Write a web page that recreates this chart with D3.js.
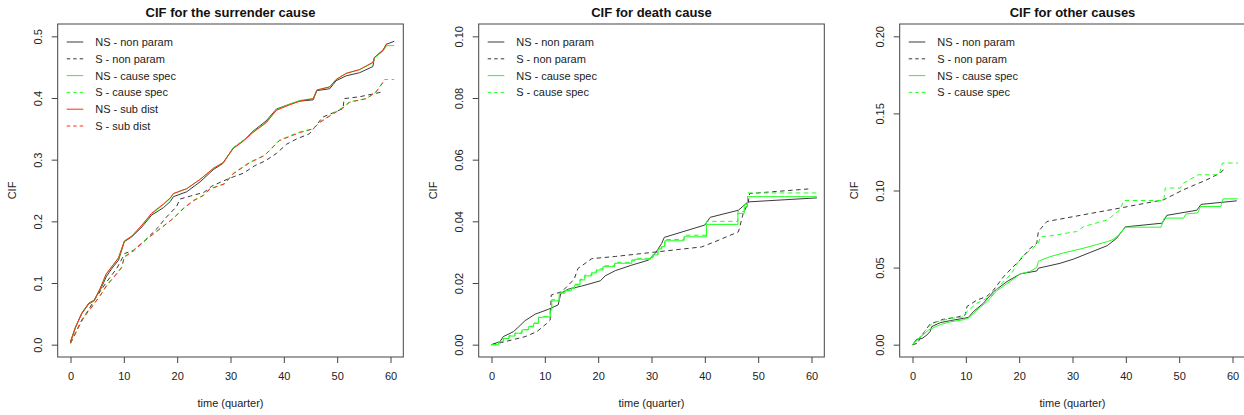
<!DOCTYPE html>
<html>
<head>
<meta charset="utf-8">
<script src="https://cdn.jsdelivr.net/npm/d3@7"></script>
<style>
  body { margin: 0; background: #fff; }
  svg { display: block; font-family: "Liberation Sans", Arial, sans-serif; }
</style>
</head>
<body>
<div id="chart"></div>
<script>
// ---- data: [time (quarter), CIF] ----
const titles = ["CIF for the surrender cause", "CIF for death cause", "CIF for other causes"];
const yTicks = [[0, 0.1, 0.2, 0.3, 0.4, 0.5], [0, 0.02, 0.04, 0.06, 0.08, 0.1], [0, 0.05, 0.1, 0.15, 0.2]];
const yTickLabels = [["0.0", "0.1", "0.2", "0.3", "0.4", "0.5"], ["0.00", "0.02", "0.04", "0.06", "0.08", "0.10"], ["0.00", "0.05", "0.10", "0.15", "0.20"]];
const xTicks = [0, 10, 20, 30, 40, 50, 60];
const legendNames = ["NS - non param", "S - non param", "NS - cause spec", "S - cause spec", "NS - sub dist", "S - sub dist"];

// surrender
const surrNSnp = [[0,0.005],[0.9,0.027],[2.1,0.051],[3.4,0.067],[4.4,0.072],[5.6,0.089],[6.7,0.110],[7.7,0.123],[9,0.137],[10.1,0.167],[11.5,0.175],[13.4,0.191],[15.2,0.21],[17.4,0.222],[18.7,0.232],[19.3,0.24],[21.8,0.248],[24.3,0.264],[26.8,0.284],[28.6,0.294],[30.5,0.319],[32.4,0.331],[34.2,0.346],[36.7,0.363],[38.6,0.382],[41.1,0.39],[43,0.395],[45.5,0.397],[46.2,0.412],[48.6,0.415],[49.8,0.428],[51.7,0.436],[54.2,0.441],[56.7,0.451],[57,0.466],[58.6,0.477],[59.2,0.487],[60.7,0.492]];
const surrSnp = [[0,0.003],[1,0.02],[2.4,0.043],[4.9,0.078],[6.8,0.102],[8.7,0.124],[10.2,0.148],[11.8,0.153],[13.7,0.167],[16.2,0.188],[18,0.207],[19.9,0.224],[20.5,0.236],[22.5,0.241],[25,0.247],[26.5,0.257],[28.5,0.265],[30.5,0.272],[32.4,0.278],[34.5,0.29],[36.5,0.298],[38.6,0.31],[40.5,0.325],[42.5,0.334],[44.8,0.342],[47.3,0.369],[49.5,0.377],[51.1,0.383],[51.3,0.399],[54.2,0.402],[58.6,0.41]];
const surrNScs = [[0,0.004],[0.9,0.028],[2.1,0.05],[3.4,0.066],[4.4,0.071],[5.6,0.091],[6.7,0.114],[7.7,0.126],[9,0.14],[10.1,0.168],[11.5,0.176],[13.4,0.193],[15.2,0.212],[17.4,0.227],[18.7,0.237],[19.3,0.245],[21.8,0.253],[24.3,0.268],[26.8,0.286],[28.6,0.295],[30.5,0.319],[32.4,0.331],[34.2,0.345],[36.7,0.361],[38.6,0.381],[41.1,0.39],[43,0.396],[45.5,0.399],[46.2,0.413],[48.6,0.418],[49.8,0.43],[51.7,0.44],[54.2,0.446],[56.7,0.457],[57,0.465],[58.6,0.476],[59.3,0.485],[60.7,0.485]];
const surrScs = [[0,0.002],[0.9,0.018],[2.1,0.04],[4,0.062],[5.6,0.08],[6.8,0.097],[8.4,0.113],[9.6,0.126],[10.1,0.143],[11.8,0.153],[14.3,0.172],[16.8,0.188],[19.3,0.205],[21.1,0.221],[23,0.234],[24.9,0.242],[26.1,0.253],[28.9,0.261],[30.5,0.278],[33.6,0.296],[36.4,0.307],[39.2,0.332],[43,0.345],[45.5,0.35],[46.7,0.361],[49.2,0.375],[51.1,0.385],[52.3,0.394],[55.5,0.399],[57.3,0.41],[58.9,0.43],[60.7,0.43]];
const surrNSsd = [[0,0.004],[0.9,0.028],[2.1,0.05],[3.4,0.066],[4.4,0.071],[5.6,0.092],[6.7,0.115],[7.7,0.126],[9,0.141],[10.1,0.168],[11.5,0.176],[13.4,0.194],[15.2,0.213],[17.4,0.228],[18.7,0.238],[19.3,0.245],[21.8,0.253],[24.3,0.268],[26.8,0.286],[28.6,0.295],[30.5,0.318],[32.4,0.33],[34.2,0.344],[36.7,0.36],[38.6,0.38],[41.1,0.389],[43,0.395],[45.5,0.399],[46.2,0.413],[48.6,0.418],[49.8,0.43],[51.7,0.44],[54.2,0.446],[56.7,0.458],[57,0.466],[58.6,0.478],[59.3,0.488]];
const surrSsd = [[0,0.002],[0.9,0.018],[2.1,0.04],[4,0.061],[5.6,0.08],[6.8,0.096],[8.4,0.112],[9.6,0.125],[10.1,0.142],[11.8,0.152],[14.3,0.171],[16.8,0.188],[19.3,0.205],[21.1,0.22],[23,0.233],[24.9,0.242],[26.1,0.252],[28.9,0.261],[30.5,0.277],[33.6,0.295],[36.4,0.307],[39.2,0.331],[43,0.344],[45.5,0.35],[46.7,0.36],[49.2,0.374],[51.1,0.384],[52.3,0.393],[55.5,0.399],[57.3,0.41],[58.9,0.429]];

// death
const deathNSnp = [[0,0],[1.6,0.001],[2.2,0.0026],[4.1,0.0042],[5.1,0.0058],[6.3,0.0078],[8.2,0.0099],[10.7,0.0115],[12.5,0.0129],[13,0.0167],[14.4,0.018],[16.9,0.019],[20.4,0.0207],[21.3,0.0223],[23.2,0.024],[26.3,0.0258],[29.4,0.0274],[30.7,0.0296],[31.9,0.0328],[32.4,0.0348],[40,0.0388],[41,0.0413],[46.3,0.0436],[48.1,0.0463],[61,0.0476]];
const deathSnp = [[0,0],[1.9,0.0007],[6.3,0.0026],[8.5,0.0042],[10.3,0.0068],[11,0.008],[11.2,0.0161],[13.2,0.0172],[15.5,0.0212],[16.2,0.0247],[18.8,0.0279],[23.2,0.0286],[30,0.0299],[39.4,0.0317],[41.9,0.0334],[46.3,0.0366],[47.2,0.0426],[48.1,0.0458],[48.4,0.049],[59.4,0.0505]];
const deathNScs = [[0,0],[1.3,0.001],[2.2,0.002],[3.3,0.0028],[4.4,0.0037],[5.7,0.0048],[6.9,0.0058],[7.9,0.0069],[8.8,0.0088],[9.5,0.009],[11,0.0112],[11.3,0.0142],[12.7,0.0167],[13.8,0.0175],[15,0.0183],[15.6,0.0194],[16.6,0.021],[17.5,0.0223],[18.8,0.0233],[19.7,0.0242],[20.9,0.0253],[23.1,0.0264],[26.3,0.0272],[26.9,0.0277],[29.8,0.0282],[30.3,0.0291],[31.2,0.031],[31.9,0.0318],[32.5,0.0337],[36.1,0.035],[40.3,0.039],[46.2,0.0426],[47.4,0.0447],[48,0.048],[61,0.048]];
const deathScs = [[0,0],[1.3,0.001],[2.2,0.002],[3.3,0.003],[4.4,0.0038],[5.7,0.0049],[6.9,0.006],[7.9,0.007],[8.8,0.0089],[9.5,0.0091],[11,0.0114],[11.3,0.0146],[12.7,0.0168],[13.8,0.0176],[15,0.0184],[15.6,0.0196],[16.6,0.0212],[17.5,0.0226],[18.8,0.0236],[19.7,0.0246],[20.9,0.0256],[23.1,0.0267],[26.3,0.0275],[26.9,0.028],[29.8,0.0285],[30.3,0.0294],[31.2,0.0313],[31.9,0.0322],[32.5,0.0341],[36.1,0.0355],[40.3,0.04],[46.2,0.0432],[47.4,0.0455],[48,0.0492],[61,0.0492]];

// other
const otherNSnp = [[0,0],[0.8,0.0035],[1.8,0.004],[2.7,0.0063],[3.3,0.0085],[3.6,0.0117],[5.2,0.0143],[7.1,0.0156],[9.6,0.0171],[10.5,0.0177],[11.4,0.0214],[13.3,0.0269],[15.2,0.0344],[17.7,0.0409],[20.2,0.0459],[23.3,0.0478],[23.6,0.0496],[27.7,0.0528],[30.2,0.0555],[33.3,0.0598],[36.5,0.0642],[38.3,0.0691],[39.9,0.0764],[46.8,0.0788],[47.7,0.0839],[53.3,0.0872],[54.1,0.091],[60.8,0.0933]];
const otherSnp = [[0,0],[1.1,0.001],[1.3,0.004],[2.7,0.0106],[3.3,0.0134],[5.8,0.0165],[8.3,0.0178],[9.9,0.0193],[10.2,0.0247],[12.1,0.029],[13.9,0.0312],[15.2,0.0355],[17.1,0.0442],[18.6,0.0496],[20.2,0.055],[22.1,0.0626],[23.3,0.0658],[23.6,0.0734],[25.2,0.0799],[38.9,0.0886],[47.1,0.094],[50.8,0.1005],[55.2,0.107],[57.7,0.1113],[58.6,0.1145]];
const otherNScs = [[0,0],[0.9,0.003],[3,0.0095],[5.2,0.013],[7.1,0.0148],[9.6,0.0162],[10.5,0.0173],[12.1,0.0225],[14,0.028],[15.8,0.035],[18.3,0.041],[20.2,0.0459],[22.1,0.0476],[23.3,0.05],[23.6,0.0541],[25.8,0.0571],[28.3,0.0595],[30.8,0.0615],[32.1,0.0626],[34.5,0.0649],[36.6,0.0669],[37.6,0.0682],[38.7,0.0712],[39.9,0.0762],[46.6,0.0762],[47.2,0.0821],[50.8,0.0821],[51.3,0.0848],[53.5,0.0855],[54,0.0896],[57.8,0.0896],[58.2,0.0946],[61,0.0946]];
const otherScs = [[0,0],[0.9,0.003],[3,0.0115],[3.9,0.0143],[7.1,0.017],[9.6,0.018],[10.2,0.0214],[12.1,0.0269],[14.6,0.0312],[16.5,0.0388],[18.6,0.0463],[20.2,0.056],[22.1,0.0614],[23.6,0.0658],[24,0.0701],[25.8,0.0706],[30.8,0.0734],[32.1,0.0766],[36.6,0.081],[38.9,0.0875],[39.6,0.0935],[47.1,0.0935],[47.4,0.1016],[50.2,0.1016],[50.8,0.1048],[53.6,0.1102],[57.5,0.1102],[58.1,0.1178],[61,0.1178]];

const panelSeries = [
  [surrNSnp, surrSnp, surrNScs, surrScs, surrNSsd, surrSsd],
  [deathNSnp, deathSnp, deathNScs, deathScs],
  [otherNSnp, otherSnp, otherNScs, otherScs]
];
const stepped = [[false, false, false, false, false, false], [false, false, true, true], [false, false, false, false]];
const yMax = [0.5, 0.1, 0.2];

// ---- styling ----
const w = 1244, h = 415;
const lineColors = ["#3a3a3a", "#3a3a3a", "#22ff22", "#22ff22", "#ff2a1a", "#ff2a1a"];
const dashes = [null, "4.5,3.5", null, "4.5,3.5", null, "4.5,3.5"];
const boxTop = 24, boxBottom = 357, boxW = 345.6;

const svg = d3.select("#chart").append("svg")
  .attr("width", w)
  .attr("height", h);

panelSeries.forEach(function (series, p) {
  const left = 57.7 + 421 * p;
  const g = svg.append("g");

  // R style 4% padding on the axis ranges
  const x = d3.scaleLinear().domain([-2.4, 62.4]).range([left, left + boxW]);
  const pad = yMax[p] * 0.04;
  const y = d3.scaleLinear().domain([-pad, yMax[p] + pad]).range([boxBottom, boxTop]);

  // series
  series.forEach(function (d, i) {
    const line = d3.line()
      .x(v => x(v[0]))
      .y(v => y(v[1]))
      .curve(stepped[p][i] ? d3.curveStepAfter : d3.curveLinear);
    g.append("path")
      .datum(d)
      .attr("d", line)
      .attr("fill", "none")
      .attr("stroke", lineColors[i])
      .attr("stroke-width", 1)
      .attr("stroke-dasharray", dashes[i]);
  });

  // box
  g.append("rect")
    .attr("x", left)
    .attr("y", boxTop)
    .attr("width", boxW)
    .attr("height", boxBottom - boxTop)
    .attr("fill", "none")
    .attr("stroke", "#444")
    .attr("stroke-width", 1);

  // x axis
  const xAxis = g.append("g")
    .attr("transform", "translate(0," + boxBottom + ")")
    .call(d3.axisBottom(x).tickValues(xTicks).tickSize(6).tickPadding(9.5).tickFormat(d3.format("d")));
  xAxis.select(".domain").remove();

  // y axis, labels turned like R does
  const yAxis = g.append("g")
    .attr("transform", "translate(" + left + ",0)")
    .call(d3.axisLeft(y).tickValues(yTicks[p]).tickSize(6).tickFormat((d, i) => yTickLabels[p][i]));
  yAxis.select(".domain").remove();
  yAxis.selectAll("text")
    .attr("transform", "rotate(-90)")
    .attr("x", 0)
    .attr("y", -15.5)
    .attr("dy", 0)
    .attr("text-anchor", "middle");

  g.selectAll(".tick line").attr("stroke", "#444");
  g.selectAll(".tick text").attr("font-size", 11).attr("fill", "#222")
    .attr("font-family", "'Liberation Sans', Arial, sans-serif");

  // titles and labels
  const mid = left + boxW / 2;
  g.append("text")
    .attr("x", mid)
    .attr("y", 17)
    .attr("text-anchor", "middle")
    .attr("font-size", 13)
    .attr("font-weight", "bold")
    .attr("fill", "#111")
    .text(titles[p]);

  g.append("text")
    .attr("x", x(30))
    .attr("y", 407)
    .attr("text-anchor", "middle")
    .attr("font-size", 11)
    .attr("fill", "#222")
    .text("time (quarter)");

  g.append("text")
    .attr("transform", "translate(" + (left - 41.7) + "," + ((boxTop + boxBottom) / 2) + ") rotate(-90)")
    .attr("text-anchor", "middle")
    .attr("font-size", 11)
    .attr("fill", "#222")
    .text("CIF");

  // legend
  const leg = g.append("g").attr("transform", "translate(" + left + "," + boxTop + ")");
  series.forEach(function (d, i) {
    const ly = 18 + i * 16.8;
    leg.append("line")
      .attr("x1", 9).attr("x2", 25.6)
      .attr("y1", ly).attr("y2", ly)
      .attr("stroke", lineColors[i])
      .attr("stroke-width", 1)
      .attr("stroke-dasharray", dashes[i] ? "3.5,3" : null);
    leg.append("text")
      .attr("x", 37.5)
      .attr("y", ly)
      .attr("dy", "0.36em")
      .attr("font-size", 11)
      .attr("fill", "#222")
      .text(legendNames[i]);
  });
});
</script>
</body>
</html>
